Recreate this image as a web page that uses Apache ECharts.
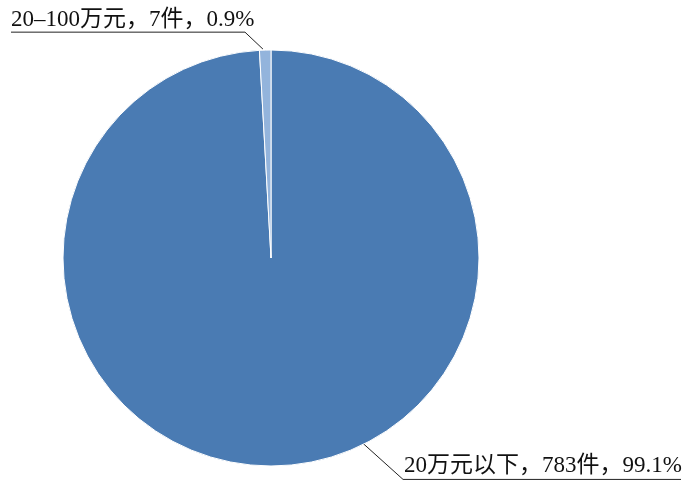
<!DOCTYPE html>
<html>
<head>
<meta charset="utf-8">
<script src="https://cdn.jsdelivr.net/npm/echarts@6/dist/echarts.min.js"></script>
<style>
html,body{margin:0;padding:0;background:#fff;}
#chart{width:689px;height:485px;}
</style>
</head>
<body>
<div id="chart"></div>
<script>
const categories = ['20万元以下', '20–100万元'];
const counts = [783, 7];
const colors = ['#4a7bb3', '#93b4dc'];

const CX = 271, CY = 258, R = 208;
function pt(angFromTop, r) {
  const a = angFromTop * Math.PI / 180;
  return [CX + r * Math.sin(a), CY - r * Math.cos(a)];
}

const chart = echarts.init(document.getElementById('chart'));
chart.setOption({
  animation: false,
  backgroundColor: '#fff',
  series: [{
    type: 'pie',
    center: [CX, CY],
    radius: R,
    startAngle: 90,
    clockwise: true,
    percentPrecision: 1,
    data: categories.map((c, i) => ({ name: c, value: counts[i], itemStyle: { color: colors[i] } })),
    itemStyle: { borderColor: '#fff', borderWidth: 1 },
    label: {
      show: true,
      position: 'outside',
      formatter: '{b}，{c}件，{d}%',
      fontFamily: "'Liberation Serif', 'Noto Sans CJK SC'",
      fontSize: 23,
      color: '#111',
      overflow: 'none',
      width: 400
    },
    labelLine: {
      show: true,
      length: 20,
      length2: 30,
      lineStyle: { color: '#222', width: 1 }
    },
    labelLayout: function (params) {
      if (params.dataIndex === 0) {
        const s = pt(153.6, 207);
        const e1 = [s[0] + 40, s[1] + 36];
        const e2 = [681, e1[1]];
        return {
          x: e1[0] + 1, y: e1[1] - 2, align: 'left', verticalAlign: 'bottom',
          labelLinePoints: [s, e1, e2]
        };
      } else {
        const s = pt(-2.2, 209);
        const e1 = [s[0] - 18, s[1] - 17];
        const e2 = [11, e1[1]];
        return {
          x: 11, y: e1[1] - 1, align: 'left', verticalAlign: 'bottom',
          labelLinePoints: [s, e1, e2]
        };
      }
    }
  }]
});
</script>
</body>
</html>
